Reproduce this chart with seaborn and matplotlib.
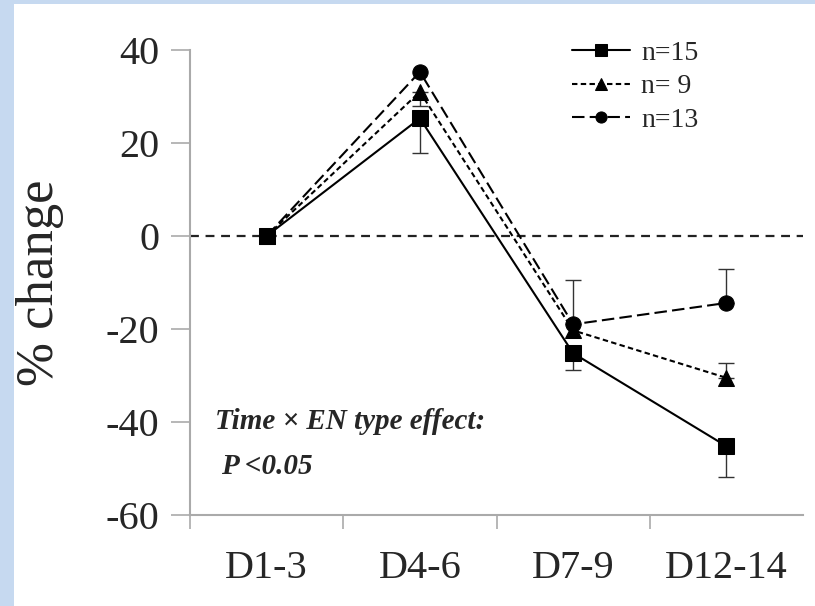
import numpy as np
import pandas as pd
import seaborn as sns
import matplotlib.pyplot as plt
from matplotlib.patches import Rectangle
from matplotlib.ticker import FixedLocator

# data
days = ['D1-3', 'D4-6', 'D7-9', 'D12-14']
groups = ['n=15', 'n= 9', 'n=13']
pct_n15 = [0, 25.3, -25.2, -45.2]
pct_n9 = [0, 31.0, -20.3, -30.5]
pct_n13 = [0, 35.3, -19.0, -14.4]
# one-sided error bars (lower, upper)
err_lo_n15 = [0, 7.5, 3.6, 6.6]
err_up_n15 = [0, 0, 0, 0]
err_lo_n9 = [0, 3.0, 0, 0]
err_up_n9 = [0, 0, 0, 3.2]
err_lo_n13 = [0, 0, 0, 0]
err_up_n13 = [0, 0, 9.5, 7.3]

df = pd.DataFrame({
    'day': days * 3,
    'group': [groups[0]] * 4 + [groups[1]] * 4 + [groups[2]] * 4,
    'pct': pct_n15 + pct_n9 + pct_n13,
})

sns.set_theme(style='white')
plt.rcParams['font.family'] = ['Liberation Serif', 'DejaVu Serif']

fig = plt.figure(figsize=(8.15, 6.06), dpi=100, facecolor='#c6d9f0')
fig.patches.append(Rectangle((14 / 815, 0), 1, 1 - 4 / 606, transform=fig.transFigure,
                             facecolor='white', edgecolor='none', zorder=-10))
ax = fig.add_axes([190 / 815, 91 / 606, 613 / 815, 465 / 606])
ax.set_facecolor('none')
ax.set_zorder(5)

# zero reference line
ax.axhline(0, color='#222222', lw=1.6, ls=(0, (4, 3)), zorder=1)

# error bars under the markers
x = np.arange(len(days))
for vals, lo, up in [(pct_n15, err_lo_n15, err_up_n15),
                     (pct_n9, err_lo_n9, err_up_n9),
                     (pct_n13, err_lo_n13, err_up_n13)]:
    lo = np.array(lo, dtype=float)
    up = np.array(up, dtype=float)
    m = (lo + up) > 0
    ax.errorbar(x[m], np.array(vals)[m], yerr=[lo[m], up[m]], fmt='none',
                ecolor='#333333', elinewidth=1.0, capsize=6, capthick=1.0, zorder=2)

df['xpos'] = df['day'].map({d: i for i, d in enumerate(days)})
sns.lineplot(data=df, x='xpos', y='pct', hue='group', style='group',
             hue_order=groups, style_order=groups,
             palette={g: 'black' for g in groups},
             dashes={'n=15': '', 'n= 9': (2.6, 1.6), 'n=13': (6, 2.5)},
             markers={'n=15': 's', 'n= 9': '^', 'n=13': 'o'},
             markersize=11, linewidth=1.5, markeredgecolor='black',
             ax=ax, zorder=3, legend=True)

ax.set_xlim(-0.5, 3.5)
ax.set_ylim(-60, 40)
ax.set_yticks([40, 20, 0, -20, -40, -60])
ax.set_yticklabels(['40', '20', '0', '-20', '-40', '-60'], fontsize=29)
ax.set_xticks(x)
ax.set_xticklabels(days, fontsize=29)
ax.xaxis.set_minor_locator(FixedLocator([-0.5, 0.5, 1.5, 2.5]))
ax.tick_params(axis='x', which='major', length=0, pad=25)
ax.tick_params(axis='x', which='minor', length=10, width=1.2, color='#aaaaaa', direction='out', bottom=True)
ax.tick_params(axis='y', which='major', length=14, width=1.2, color='#aaaaaa', direction='out', left=True, pad=8)
ax.set_xlabel('')
ax.set_ylabel('% change', fontsize=38, labelpad=30)

for s in ['top', 'right']:
    ax.spines[s].set_visible(False)
for s in ['left', 'bottom']:
    ax.spines[s].set_color('#aaaaaa')
    ax.spines[s].set_linewidth(1.5)

ax.text(0.04, 0.185, 'Time \u00d7 EN type effect:', transform=ax.transAxes,
        fontsize=21, fontstyle='italic', fontweight='bold')
ax.text(0.05, 0.088, 'P <0.05', transform=ax.transAxes,
        fontsize=21, fontstyle='italic', fontweight='bold')

leg = ax.legend(loc='upper right', bbox_to_anchor=(0.87, 1.075), frameon=False,
                fontsize=20, handlelength=2.1, handletextpad=0.4, labelspacing=0.3)
for h in leg.legend_handles:
    h.set_markersize(8)

fig.savefig('out.png', dpi=100)
